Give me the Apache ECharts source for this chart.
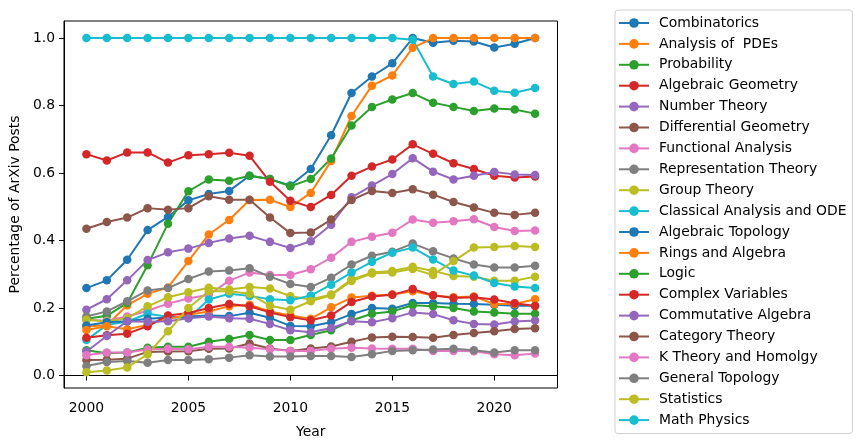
<!DOCTYPE html>
<html>
<head>
<meta charset="utf-8">
<script src="https://cdn.jsdelivr.net/npm/echarts@6/dist/echarts.min.js"></script>
<style>
html,body{margin:0;padding:0;background:#fff;}
#chart{width:861px;height:444px;}
</style>
</head>
<body>
<div id="chart"></div>
<script>
const years = [2000,2001,2002,2003,2004,2005,2006,2007,2008,2009,2010,2011,2012,2013,2014,2015,2016,2017,2018,2019,2020,2021,2022];
const xTicks = [2000,2005,2010,2015,2020];
const yTicks = [0.0,0.2,0.4,0.6,0.8,1.0];

const combinatorics = [0.259,0.282,0.343,0.431,0.470,0.519,0.538,0.547,0.592,0.582,0.563,0.612,0.712,0.837,0.886,0.925,1.0,0.986,0.992,0.990,0.972,0.983,1.0];
const pdes = [0.145,0.149,0.208,0.242,0.261,0.339,0.418,0.461,0.520,0.521,0.499,0.541,0.636,0.769,0.859,0.889,0.971,1.0,1.0,1.0,1.0,1.0,1.0];
const probability = [0.168,0.177,0.215,0.327,0.450,0.546,0.581,0.577,0.592,0.582,0.561,0.582,0.643,0.741,0.796,0.818,0.837,0.808,0.796,0.784,0.791,0.788,0.776];
const algGeometry = [0.656,0.637,0.661,0.661,0.631,0.653,0.656,0.660,0.651,0.574,0.518,0.499,0.535,0.592,0.619,0.640,0.685,0.657,0.629,0.612,0.592,0.587,0.590];
const numberTheory = [0.195,0.226,0.282,0.342,0.365,0.376,0.393,0.406,0.414,0.396,0.378,0.398,0.447,0.528,0.563,0.597,0.644,0.604,0.581,0.592,0.603,0.596,0.594];
const diffGeometry = [0.435,0.455,0.468,0.496,0.491,0.496,0.531,0.521,0.521,0.468,0.422,0.424,0.462,0.520,0.547,0.541,0.552,0.536,0.514,0.498,0.482,0.476,0.482];
const functionalAnalysis = [0.165,0.162,0.175,0.192,0.213,0.228,0.239,0.281,0.305,0.298,0.298,0.315,0.349,0.396,0.411,0.423,0.462,0.453,0.457,0.463,0.440,0.428,0.430];
const repTheory = [0.175,0.190,0.220,0.252,0.259,0.286,0.308,0.311,0.318,0.293,0.271,0.262,0.290,0.329,0.355,0.367,0.391,0.368,0.347,0.329,0.320,0.320,0.325];
const groupTheory = [0.165,0.160,0.170,0.205,0.232,0.247,0.260,0.255,0.262,0.258,0.235,0.225,0.240,0.285,0.305,0.310,0.322,0.310,0.295,0.293,0.281,0.281,0.293];
const classicalAnalysis = [0.105,0.150,0.160,0.183,0.174,0.170,0.225,0.242,0.236,0.226,0.223,0.237,0.269,0.305,0.337,0.364,0.379,0.344,0.311,0.296,0.274,0.264,0.259];
const algTopology = [0.148,0.158,0.161,0.168,0.172,0.175,0.178,0.176,0.186,0.171,0.147,0.146,0.158,0.182,0.200,0.198,0.215,0.215,0.213,0.212,0.210,0.207,0.207];
const ringsAlgebra = [0.135,0.146,0.137,0.150,0.168,0.180,0.190,0.205,0.210,0.190,0.178,0.168,0.202,0.231,0.236,0.240,0.250,0.237,0.232,0.234,0.212,0.212,0.226];
const logic = [0.075,0.066,0.068,0.082,0.085,0.085,0.100,0.108,0.120,0.105,0.105,0.120,0.134,0.163,0.183,0.190,0.208,0.205,0.200,0.190,0.187,0.183,0.183];
const complexVariables = [0.112,0.119,0.124,0.146,0.178,0.185,0.200,0.212,0.205,0.187,0.173,0.164,0.178,0.218,0.234,0.239,0.256,0.238,0.230,0.232,0.225,0.214,0.206];
const commAlgebra = [0.071,0.117,0.161,0.159,0.161,0.170,0.175,0.170,0.168,0.153,0.134,0.128,0.141,0.161,0.158,0.170,0.187,0.182,0.164,0.153,0.151,0.160,0.163];
const categoryTheory = [0.046,0.047,0.050,0.070,0.071,0.072,0.079,0.080,0.095,0.080,0.073,0.080,0.086,0.100,0.113,0.115,0.114,0.112,0.120,0.126,0.131,0.138,0.140];
const kTheory = [0.060,0.068,0.068,0.077,0.079,0.078,0.085,0.085,0.082,0.078,0.073,0.073,0.079,0.082,0.080,0.079,0.079,0.073,0.073,0.072,0.063,0.060,0.065];
const generalTopology = [0.028,0.040,0.043,0.038,0.046,0.046,0.048,0.053,0.060,0.056,0.056,0.058,0.058,0.055,0.063,0.073,0.075,0.077,0.079,0.075,0.068,0.075,0.075];
const statistics = [0.010,0.015,0.024,0.063,0.131,0.200,0.250,0.250,0.242,0.207,0.195,0.220,0.238,0.280,0.302,0.305,0.316,0.298,0.339,0.379,0.381,0.384,0.381];
const mathPhysics = [1,1,1,1,1,1,1,1,1,1,1,1,1,1,1,1,0.995,0.886,0.864,0.871,0.844,0.838,0.852];

const seriesNames = ["Combinatorics","Analysis of  PDEs","Probability","Algebraic Geometry","Number Theory","Differential Geometry","Functional Analysis","Representation Theory","Group Theory","Classical Analysis and ODE","Algebraic Topology","Rings and Algebra","Logic","Complex Variables","Commutative Algebra","Category Theory","K Theory and Homolgy","General Topology","Statistics","Math Physics"];
const seriesValues = [combinatorics,pdes,probability,algGeometry,numberTheory,diffGeometry,functionalAnalysis,repTheory,groupTheory,classicalAnalysis,algTopology,ringsAlgebra,logic,complexVariables,commAlgebra,categoryTheory,kTheory,generalTopology,statistics,mathPhysics];

const palette = ['#1f77b4','#ff7f0e','#2ca02c','#d62728','#9467bd','#8c564b','#e377c2','#7f7f7f','#bcbd22','#17becf'];
const FONT = 'DejaVu Sans';

const series = seriesNames.map((name, i) => ({
  name: name,
  type: 'line',
  data: years.map((y, j) => [y, seriesValues[i][j]]),
  symbol: 'circle',
  symbolSize: 8.5,
  showSymbol: true,
  animation: false,
  color: palette[i % 10],
  lineStyle: { width: 2, color: palette[i % 10] },
  itemStyle: { color: palette[i % 10] },
  emphasis: { disabled: true }
}));

const chart = echarts.init(document.getElementById('chart'), null, { renderer: 'canvas' });
chart.setOption({
  animation: false,
  backgroundColor: '#fff',
  grid: { left: 61.5, top: 21, right: 303.5, bottom: 53.3, show: true, borderColor: '#000', borderWidth: 1, backgroundColor: 'transparent' },
  xAxis: {
    type: 'value', min: 1998.9, max: 2023.1,
    name: 'Year', nameLocation: 'middle', nameGap: 37,
    nameTextStyle: { fontFamily: FONT, fontSize: 13.9, color: '#000' },
    axisLine: { show: true, lineStyle: { color: '#000', width: 1 } },
    axisTick: { show: true, length: 5, lineStyle: { color: '#000' }, customValues: xTicks },
    axisLabel: { fontFamily: FONT, fontSize: 13.9, color: '#000', margin: 13, customValues: xTicks, formatter: v => String(v) },
    splitLine: { show: false }
  },
  yAxis: {
    type: 'value', min: -0.037, max: 1.0505,
    name: 'Percentage of ArXiv Posts', nameLocation: 'middle', nameGap: 39,
    nameTextStyle: { fontFamily: FONT, fontSize: 13.9, color: '#000' },
    axisLine: { show: true, lineStyle: { color: '#000', width: 1 } },
    axisTick: { show: true, length: 5, lineStyle: { color: '#000' }, customValues: yTicks },
    axisLabel: { fontFamily: FONT, fontSize: 13.9, color: '#000', margin: 9, customValues: yTicks, formatter: v => v.toFixed(1) },
    splitLine: { show: false }
  },
  legend: {
    orient: 'vertical',
    left: 615, top: 10,
    padding: [6, 6, 6.5, 3],
    itemWidth: 30, itemHeight: 12, itemGap: 6.9,
    borderColor: '#d0d0d0', borderWidth: 1, borderRadius: 3,
    backgroundColor: 'rgba(255,255,255,0.8)',
    textStyle: { fontFamily: FONT, fontSize: 13.9, color: '#000', padding: [0, 0, 0, 5] },
    data: seriesNames
  },
  series: series
});
</script>
</body>
</html>
